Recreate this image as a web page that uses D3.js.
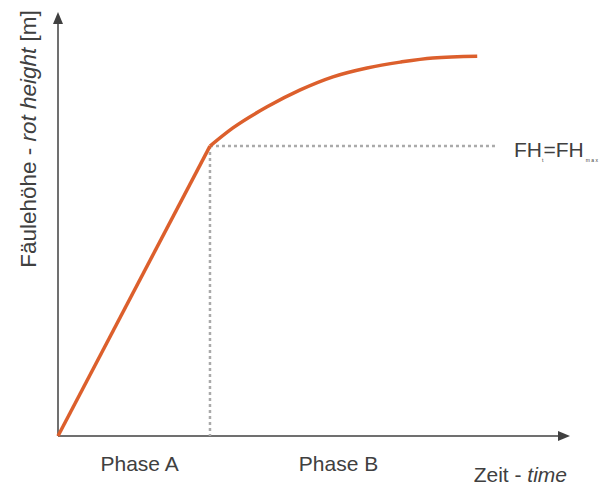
<!DOCTYPE html>
<html>
<head>
<meta charset="utf-8">
<script src="https://cdn.jsdelivr.net/npm/d3@7"></script>
<style>
  body { margin: 0; background: #fff; }
  text { font-family: "Liberation Sans", Arial, sans-serif; fill: #404040; }
</style>
</head>
<body>
<svg id="chart" width="602" height="485"></svg>
<script>
// curve data (time, rot height) in arbitrary units 0..100
const time   = [0, 29.8, 34.3, 41.0, 47.5, 53.9, 60.6, 67.1, 73.5, 82.2];
const height = [0, 68.7, 73.0, 78.0, 82.0, 85.1, 87.2, 88.6, 89.6, 90.0];
const breakT = 29.8;     // end of phase A
const breakH = 68.7;     // FH_t = FH_max
const dotEndT = 86.1;
const phases = ["Phase A", "Phase B"];
const phaseCenters = [16, 55];

const svg = d3.select("#chart");

const x = d3.scaleLinear().domain([0, 100]).range([58, 568]);
const y = d3.scaleLinear().domain([0, 100]).range([436, 14]);

// axes with arrows
const axisColor = "#404040";
svg.append("line")
  .attr("x1", x(0)).attr("y1", y(0))
  .attr("x2", x(0)).attr("y2", y(100) + 8)
  .attr("stroke", axisColor).attr("stroke-width", 1.5);
svg.append("path")
  .attr("d", `M${x(0)},${y(100) - 2} L${x(0) - 5},${y(100) + 10} L${x(0) + 5},${y(100) + 10} Z`)
  .attr("fill", axisColor);

svg.append("line")
  .attr("x1", x(0)).attr("y1", y(0))
  .attr("x2", x(100) - 8).attr("y2", y(0))
  .attr("stroke", axisColor).attr("stroke-width", 1.5);
svg.append("path")
  .attr("d", `M${x(100) + 2},${y(0)} L${x(100) - 10},${y(0) - 5} L${x(100) - 10},${y(0) + 5} Z`)
  .attr("fill", axisColor);

// dotted reference lines
svg.append("line")
  .attr("x1", x(breakT)).attr("y1", y(breakH))
  .attr("x2", x(breakT)).attr("y2", y(0))
  .attr("stroke", "#aaaaaa").attr("stroke-width", 2.5)
  .attr("stroke-dasharray", "3,3");
svg.append("line")
  .attr("x1", x(breakT)).attr("y1", y(breakH))
  .attr("x2", x(dotEndT)).attr("y2", y(breakH))
  .attr("stroke", "#aaaaaa").attr("stroke-width", 2.5)
  .attr("stroke-dasharray", "3,3");

// curve: straight phase A, smooth phase B
const pts = time.map((t, i) => [t, height[i]]);
svg.append("path")
  .attr("d", d3.line().x(d => x(d[0])).y(d => y(d[1]))(pts.slice(0, 2)))
  .attr("fill", "none").attr("stroke", "#dc5f2c").attr("stroke-width", 3.5);
svg.append("path")
  .attr("d", d3.line().x(d => x(d[0])).y(d => y(d[1])).curve(d3.curveMonotoneX)(pts.slice(1)))
  .attr("fill", "none").attr("stroke", "#dc5f2c").attr("stroke-width", 3.5);

// FH label
const fh = svg.append("text")
  .attr("x", 514).attr("y", y(breakH) + 11)
  .style("font-size", "21px");
fh.append("tspan").text("FH");
fh.append("tspan").text("t").style("font-size", "5px").attr("dy", 5);
fh.append("tspan").text("=FH").attr("dy", -5);
fh.append("tspan").text("max").style("font-size", "5px").attr("dy", 5).attr("dx", 2)
  .style("letter-spacing", "1.5px");

// phase labels
svg.selectAll(".phase")
  .data(phases)
  .enter().append("text")
  .attr("class", "phase")
  .attr("x", (d, i) => x(phaseCenters[i]))
  .attr("y", 471)
  .attr("text-anchor", "middle")
  .style("font-size", "21px")
  .text(d => d);

// x axis title
const xt = svg.append("text")
  .attr("x", 567).attr("y", 482)
  .attr("text-anchor", "end")
  .style("font-size", "21px");
xt.append("tspan").text("Zeit - ");
xt.append("tspan").text("time").style("font-style", "italic");

// y axis title
const yt = svg.append("text")
  .attr("transform", "translate(36,139) rotate(-90)")
  .attr("text-anchor", "middle")
  .style("font-size", "22.5px");
yt.append("tspan").text("Fäulehöhe - ");
yt.append("tspan").text("rot height").style("font-style", "italic");
yt.append("tspan").text(" [m]");
</script>
</body>
</html>
